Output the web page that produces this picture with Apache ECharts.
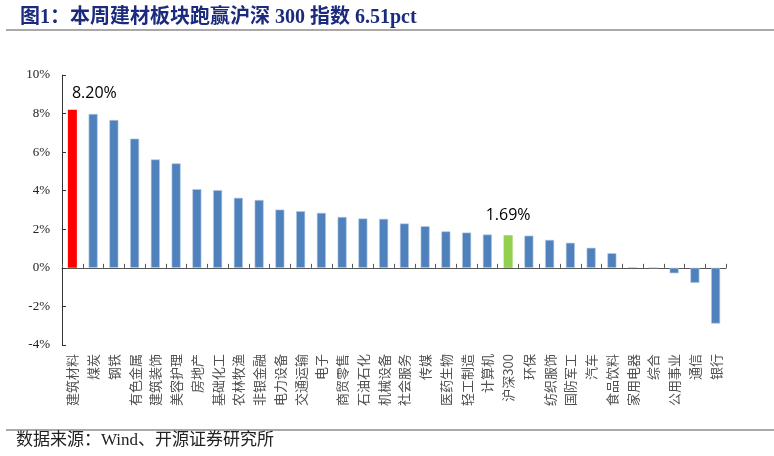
<!DOCTYPE html>
<html><head><meta charset="utf-8">
<script src="https://cdn.jsdelivr.net/npm/echarts@6/dist/echarts.min.js"></script>
<style>html,body{margin:0;padding:0;background:#fff}#c{width:774px;height:456px}</style>
</head><body><div id="c"></div>
<script>
const categories = ['建筑材料','煤炭','钢铁','有色金属','建筑装饰','美容护理','房地产','基础化工','农林牧渔','非银金融','电力设备','交通运输','电子','商贸零售','石油石化','机械设备','社会服务','传媒','医药生物','轻工制造','计算机','沪深300','环保','纺织服饰','国防军工','汽车','食品饮料','家用电器','综合','公用事业','通信','银行'];
const values = [8.20,7.98,7.67,6.70,5.62,5.42,4.08,4.03,3.63,3.52,3.02,2.94,2.85,2.64,2.56,2.54,2.30,2.16,1.89,1.83,1.73,1.69,1.67,1.45,1.30,1.04,0.76,0.03,0.01,-0.28,-0.78,-2.89];
const yTicks = {min:-4, max:10, interval:2};
const titleText = '图1：本周建材板块跑赢沪深 300 指数 6.51pct';
const sourceText = '数据来源：Wind、开源证券研究所';
const highlight = {'建筑材料':'#ff0000','沪深300':'#92d050'};

const chart = echarts.init(document.getElementById('c'));
const data = values.map((v,i)=>{
  const c = categories[i];
  const item = {value:v};
  if (highlight[c]) {
    item.itemStyle = {color: highlight[c], borderWidth:0};
    item.label = {show:true, position:'top', distance: i===0?8:12, offset: i===0?[22,0]:[0,0],
      formatter: p=>p.value.toFixed(2)+'%', fontFamily:'Open Sans, Noto Sans', fontSize:16, color:'#000'};
  }
  return item;
});
const labelFont = 'Noto Sans CJK SC';
chart.setOption({
  animation:false,
  title:{text:titleText,left:15,top:3,textStyle:{fontFamily:'Liberation Serif, Noto Sans CJK SC',fontWeight:'bold',fontSize:20,color:'#1b2a7c'}},
  graphic:[
    {type:'line',shape:{x1:6,y1:30,x2:774,y2:30},style:{stroke:'#8c8c8c',lineWidth:1.5}},
    {type:'line',shape:{x1:6,y1:430,x2:774,y2:430},style:{stroke:'#8c8c8c',lineWidth:1.5}},
    {type:'text',left:16,top:432,style:{text:sourceText,font:'17px "Liberation Serif", "Noto Sans CJK SC"',fill:'#222'}}
  ],
  grid:{left:62,right:48,top:75,bottom:111,containLabel:false},
  xAxis:{type:'category',data:categories,
    axisLine:{onZero:true,lineStyle:{color:'#555',width:1}},
    axisTick:{show:true,inside:true,length:4,alignWithLabel:false,lineStyle:{color:'#555'}},
    axisLabel:{interval:0,rotate:90,fontSize:13,color:'#505050',fontFamily:labelFont,margin:9},
    splitLine:{show:false}},
  yAxis:{type:'value',min:yTicks.min,max:yTicks.max,interval:yTicks.interval,
    axisLine:{show:true,lineStyle:{color:'#333'}},
    axisTick:{show:true,inside:true,length:4,lineStyle:{color:'#333'}},
    axisLabel:{formatter:v=>v+'%',fontFamily:'Liberation Serif',fontSize:13,color:'#222',margin:12},
    splitLine:{show:false}},
  series:[{type:'bar',data:data,barWidth:9,
    itemStyle:{color:'#4f81bd',borderColor:'#b8cce4',borderWidth:0.6}}]
});
</script></body></html>
